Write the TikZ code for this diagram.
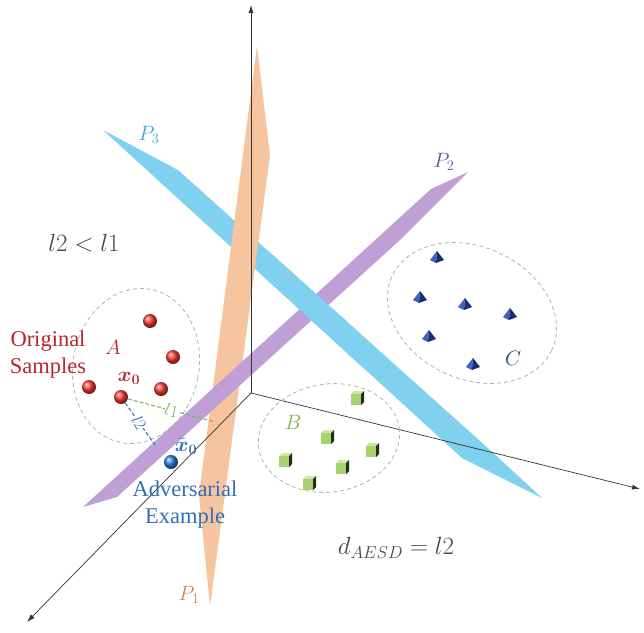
\documentclass[tikz,border=0pt]{standalone}
\usepackage{fontspec}
\setmainfont{Liberation Serif}
\usepackage{bm}
\usetikzlibrary{arrows.meta}
\definecolor{orangeP}{RGB}{247,196,160}
\definecolor{blueP}{RGB}{128,208,240}
\definecolor{purpleP}{RGB}{190,160,215}
\definecolor{redT}{RGB}{185,38,45}
\definecolor{redS}{RGB}{255,60,55}
\definecolor{blueT}{RGB}{50,112,182}
\definecolor{blueS}{RGB}{40,130,225}
\definecolor{greenT}{RGB}{125,178,80}
\definecolor{grayT}{RGB}{70,70,70}
\definecolor{purpleT}{RGB}{110,80,150}
\definecolor{orangeT}{RGB}{215,130,80}
\definecolor{cyanT}{RGB}{60,165,215}
\definecolor{darkblueT}{RGB}{40,70,145}
\definecolor{cubeFront}{RGB}{165,212,110}
\definecolor{cubeTop}{RGB}{205,232,165}
\definecolor{cubeSide}{RGB}{35,45,30}
\definecolor{pyrL}{RGB}{60,100,190}
\definecolor{pyrR}{RGB}{25,45,115}
\tikzset{
  axisline/.style={draw=black!80, line width=0.7pt, -{Latex[length=8pt,width=5pt]}},
  cluster/.style={draw=black!30, dashed, dash pattern=on 4pt off 3pt, line width=0.8pt},
  redball/.style={circle, minimum size=14pt, inner sep=0pt, shade, ball color=redS},
  blueball/.style={circle, minimum size=14pt, inner sep=0pt, shade, ball color=blueS},
  lab/.style={font=\fontsize{22.5}{27}\selectfont, align=center},
  mlab/.style={font=\fontsize{21}{24}\selectfont},
  dist/.style={dashed, dash pattern=on 4pt off 2pt, line width=1pt},
  cube/.pic={
    \fill[cubeTop] (-6,-4) -- (-3,-7) -- (7,-7) -- (4,-4) -- cycle;
    \fill[cubeFront] (-6,-4) rectangle (4,7);
    \fill[cubeSide] (4,-4) -- (7,-7) -- (7,4) -- (4,7) -- cycle;
  },
  pyr/.pic={
    \fill[pyrL] (0,-7) -- (-7,2) -- (-1,5) -- cycle;
    \fill[pyrR] (0,-7) -- (-1,5) -- (7,2) -- cycle;
  }
}
\begin{document}
\begin{tikzpicture}[x=1pt,y=-1pt]
\useasboundingbox (0,0) rectangle (644,632);
\fill[white] (0,0) rectangle (644,632);

% planes
\fill[blueP] (103,130) -- (178,170) -- (490,450) -- (542,498) -- (462,458) -- cycle;
\fill[orangeP] (257,46) -- (270,155) -- (210,606) -- (199,495) -- cycle;
\fill[purpleP] (468,172) -- (431,189) -- (83,507) -- (117,497) -- (400,240) -- cycle;
\begin{scope}
  \clip (256,255) rectangle (360,370);
  \fill[blueP] (103,130) -- (178,170) -- (490,450) -- (542,498) -- (462,458) -- cycle;
\end{scope}

% axes
\coordinate (O) at (251,393);
\coordinate (Ztop) at (251,5);
\coordinate (Xend) at (640,489);
\coordinate (Yend) at (27,622);
\draw[axisline] (O) -- (Ztop);
\draw[axisline] (O) -- (Xend);
\draw[axisline] (O) -- (Yend);

% clusters
\draw[cluster, shift={(136,366)}, rotate=-11] (0,0) ellipse [x radius=63, y radius=78];
\draw[cluster, shift={(329,438)}, rotate=8] (0,0) ellipse [x radius=71, y radius=54];
\draw[cluster, shift={(472,313)}, rotate=-25] (0,0) ellipse [x radius=88, y radius=66];

% red samples
\node[redball] (a1) at (150,321) {};
\node[redball] (a2) at (173,357) {};
\node[redball] (a3) at (89,387) {};
\node[redball] (a4) at (161,389) {};
\node[redball] (x0) at (121,397) {};
\node[blueball] (xt) at (171,462) {};

% green cubes
\pic at (357,398) {cube};
\pic at (327,437) {cube};
\pic at (372,450) {cube};
\pic at (285,460) {cube};
\pic at (342,467) {cube};
\pic at (309,483) {cube};

% blue pyramids
\pic at (437,258) {pyr};
\pic at (420,298) {pyr};
\pic at (465,305) {pyr};
\pic at (510,315) {pyr};
\pic at (429,337) {pyr};
\pic at (473,365) {pyr};

% distances
\coordinate (l1end) at (215,422);
\coordinate (l2end) at (155,445);
\draw[dist, greenT] (x0) -- node[pos=0.5, fill=white, inner sep=0pt, rotate=-12, font=\fontsize{19}{21}\selectfont, text=greenT] {$l1$} (l1end);
\draw[dist, blueT] (x0) -- node[pos=0.47, fill=white, inner sep=0pt, rotate=-58, font=\fontsize{19}{21}\selectfont, text=blueT] {$l2$} (l2end);

% labels
\node[lab, text=redT] (orig) at (48,355) {Original\\Samples};
\node[mlab, text=redT] (lA) at (113,347) {$A$};
\node[mlab, text=redT] (lx0) at (129,378) {$\bm{x}_{\bm{0}}$};
\node[mlab, text=blueT, inner sep=0pt] (lxt) at (186,446) {$\tilde{\bm{x}}_{\bm{0}}$};
\node[lab, text=blueT] (adv) at (185,505) {Adversarial\\Example};
\node[mlab, text=grayT, font=\fontsize{23}{26}\selectfont] (ineq) at (84,243) {$l2 < l1$};
\node[mlab, text=grayT, font=\fontsize{23}{26}\selectfont] (dist) at (396,548) {$d_{AESD} = l2$};
\node[mlab, text=orangeT] (P1) at (189,595) {$P_1$};
\node[mlab, text=purpleT] (P2) at (444,162) {$P_2$};
\node[mlab, text=cyanT] (P3) at (149,135) {$P_3$};
\node[mlab, text=greenT] (lB) at (293,422) {$B$};
\node[mlab, text=darkblueT] (lC) at (513,358) {$C$};
\end{tikzpicture}
\end{document}
